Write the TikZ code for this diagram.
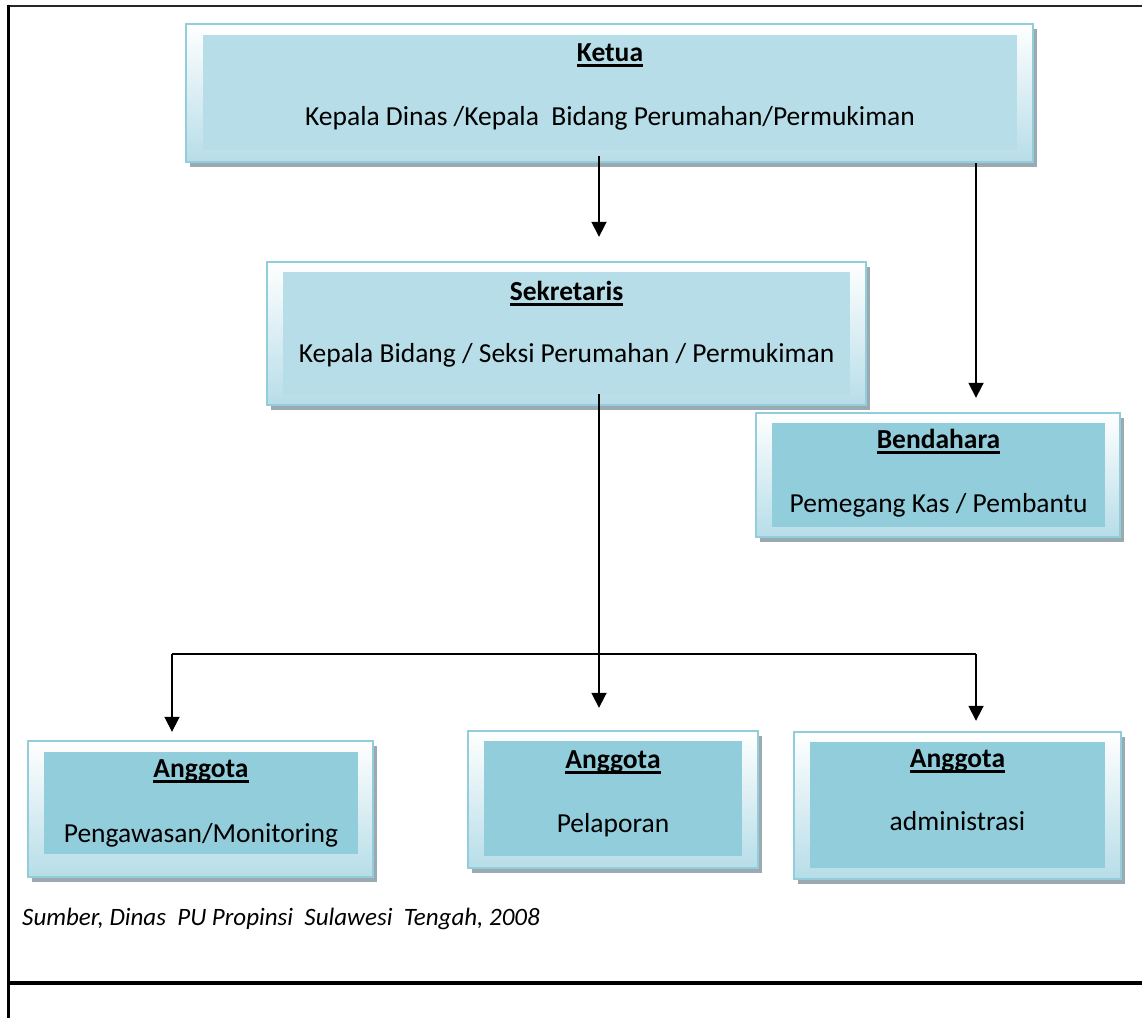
\documentclass[tikz,border=0pt]{standalone}
\usepackage{fontspec}
\setmainfont{Carlito}
\usetikzlibrary{arrows.meta,shadows}
\definecolor{boxline}{HTML}{92CDDC}
\definecolor{paleblue}{HTML}{B7DDE8}
\definecolor{midblue}{HTML}{92CDDC}
\definecolor{shade}{HTML}{9AAAB0}
\newcommand{\uttl}[1]{\setbox0\hbox{\bfseries #1}\rlap{\rule[-5.5pt]{\wd0}{2.8pt}}\box0}
\tikzset{
  outerbox/.style={draw=boxline,line width=2.4pt,top color=white,bottom color=paleblue,
    drop shadow={shadow xshift=4pt,shadow yshift=-5pt,fill=shade,opacity=1}},
  innerbox/.style={draw=none,fill=#1},
  boxtext/.style={font=\fontsize{27.5}{32}\selectfont,anchor=base,inner sep=0pt},
  wire/.style={line width=1.8pt},
  link/.style={line width=1.8pt,-{Triangle[width=15pt,length=15pt]}}
}
\begin{document}
\begin{tikzpicture}[x=1pt,y=-1pt]
\useasboundingbox (0,0) rectangle (1142,1018);
% frame
\draw[line width=2pt,black!85](8,5.5)--(1142,5.5);
\draw[line width=3pt](8.5,4.5)--(8.5,1018);
\draw[line width=3.5pt](7,983)--(1142,983);
% Ketua
\node[outerbox,minimum width=847,minimum height=138](ketua) at (609.5,93){};
\node[innerbox=paleblue,minimum width=814,minimum height=115](ketuaIn) at (610,92.5){};
\node[boxtext](ketuaTtl) at (610,61){\uttl{Ketua}};
\node[boxtext](ketuaTxt) at (610,125){Kepala Dinas /Kepala\ \ Bidang Perumahan/Permukiman};
% Sekretaris
\node[outerbox,minimum width=599,minimum height=143](sekr) at (566.5,333.5){};
\node[innerbox=paleblue,minimum width=567,minimum height=123](sekrIn) at (566.5,333.5){};
\node[boxtext](sekrTtl) at (566.5,300){\uttl{Sekretaris}};
\node[boxtext](sekrTxt) at (566.5,362){Kepala Bidang / Seksi Perumahan / Permukiman};
% Bendahara
\node[outerbox,minimum width=364,minimum height=124](bend) at (938,475){};
\node[innerbox=midblue,minimum width=333,minimum height=104](bendIn) at (938.5,475){};
\node[boxtext](bendTtl) at (938.5,448){\uttl{Bendahara}};
\node[boxtext](bendTxt) at (938.5,512){Pemegang Kas / Pembantu};
% Anggota
\node[outerbox,minimum width=345,minimum height=136](angA) at (200.5,809){};
\node[innerbox=midblue,minimum width=314,minimum height=102](angAIn) at (201,803){};
\node[boxtext](angATtl) at (201,777){\uttl{Anggota}};
\node[boxtext](angATxt) at (201,842){Pengawasan/Monitoring};
\node[outerbox,minimum width=290,minimum height=137](angB) at (613,799.5){};
\node[innerbox=midblue,minimum width=258,minimum height=115](angBIn) at (613,798.5){};
\node[boxtext](angBTtl) at (613,768){\uttl{Anggota}};
\node[boxtext](angBTxt) at (613,832){Pelaporan};
\node[outerbox,minimum width=327,minimum height=147](angC) at (957.5,805.5){};
\node[innerbox=midblue,minimum width=295,minimum height=126](angCIn) at (957.5,805){};
\node[boxtext](angCTtl) at (957.5,767){\uttl{Anggota}};
\node[boxtext](angCTxt) at (957.5,830){administrasi};
% source
\node[font=\fontsize{25}{30}\itshape,anchor=base west,inner sep=0pt](src) at (22,925){Sumber, Dinas\ \ PU Propinsi\ \ Sulawesi\ \ Tengah, 2008};
% connectors
\path([xshift=-10.5pt,yshift=7pt]ketua.south) coordinate (k0)
     ([yshift=24pt]sekr.north) coordinate (s0)
     ([yshift=14pt]bend.north) coordinate (b0)
     ([yshift=12pt]sekr.south) coordinate (s1)
     ([yshift=22pt]angB.north) coordinate (a2)
     ([yshift=8pt]angA.north) coordinate (a1)
     ([yshift=10pt]angC.north) coordinate (a3);
\coordinate (busL) at (172,654);
\coordinate (busR) at (976,654);
\draw[link](k0)--(k0|-s0);
\draw[link](busR|-ketua.south)--(busR|-b0);
\draw[link](k0|-s1)--(k0|-a2);
\draw[wire](busL)--(busR);
\draw[link](busL)--(busL|-a1);
\draw[link](busR)--(busR|-a3);
\end{tikzpicture}
\end{document}
